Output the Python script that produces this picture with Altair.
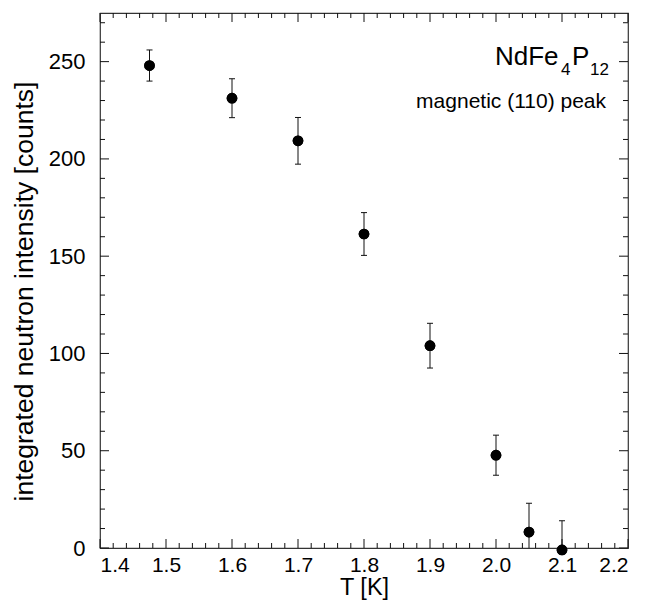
import altair as alt
import pandas as pd

# ---- data ----
T = [1.475, 1.6, 1.7, 1.8, 1.9, 2.0, 2.05, 2.1]
I = [248.0, 231.2, 209.3, 161.4, 104.0, 47.7, 8.2, -1.0]
ERR = [8.0, 10.0, 12.0, 11.0, 11.5, 10.3, 14.8, 15.0]

X_MAJOR = [1.4, 1.5, 1.6, 1.7, 1.8, 1.9, 2.0, 2.1, 2.2]
X_MINOR = [1.42, 1.44, 1.46, 1.48, 1.52, 1.54, 1.56, 1.58,
           1.62, 1.64, 1.66, 1.68, 1.72, 1.74, 1.76, 1.78,
           1.82, 1.84, 1.86, 1.88, 1.92, 1.94, 1.96, 1.98,
           2.02, 2.04, 2.06, 2.08, 2.12, 2.14, 2.16, 2.18]
Y_MAJOR = [0, 50, 100, 150, 200, 250]
Y_MINOR = [10, 20, 30, 40, 60, 70, 80, 90, 110, 120, 130, 140,
           160, 170, 180, 190, 210, 220, 230, 240, 260, 270]

X_TITLE = "T [K]"
Y_TITLE = "integrated neutron intensity [counts]"
COMPOUND = ["NdFe", "4", "P", "12"]
PEAK_LABEL = "magnetic (110) peak"

FONT = "Liberation Sans"
W, H = 528, 535
MAJ, MIN = 9, 5
INK = "#111111"

df = pd.DataFrame({"T": T, "I": I, "err": ERR})
df["lo"] = df["I"] - df["err"]
df["hi"] = df["I"] + df["err"]

xs = alt.Scale(domain=[1.4, 2.2], nice=False, zero=False)
ys = alt.Scale(domain=[0, 275], nice=False, zero=False)

x_axis = alt.Axis(values=X_MAJOR, format=".1f", title=X_TITLE, ticks=False,
                  domain=False, grid=False, labelFont=FONT, labelFontSize=21,
                  labelColor="black", labelPadding=6, titleFont=FONT,
                  titleFontSize=23.5, titleFontWeight="normal", titleColor="black",
                  titleBaseline="alphabetic", titleY=46)
y_axis = alt.Axis(values=Y_MAJOR, format="d", title=Y_TITLE, ticks=False,
                  domain=False, grid=False, labelFont=FONT, labelFontSize=22,
                  labelColor="black", labelPadding=15, titleFont=FONT,
                  titleFontSize=26.5, titleFontWeight="normal", titleColor="black",
                  titleBaseline="alphabetic", titleX=-68, titleY=278)


def X(field):
    return alt.X(field, scale=xs, axis=x_axis)


def Y(field):
    return alt.Y(field, scale=ys, axis=y_axis)


points = alt.Chart(df).mark_circle(size=115, color="black", opacity=1).encode(
    x=X("T:Q"), y=Y("I:Q"),
)

bars = alt.Chart(df).mark_rule(color=INK, strokeWidth=1, clip=True).encode(
    x=X("T:Q"), y=Y("lo:Q"), y2="hi:Q",
)
cap_hi = alt.Chart(df).mark_rule(color=INK, strokeWidth=1, clip=True,
                                 xOffset=-3, x2Offset=3).encode(
    x=X("T:Q"), x2="T:Q", y=Y("hi:Q"),
)
cap_lo = alt.Chart(df).mark_rule(color=INK, strokeWidth=1, clip=True,
                                 xOffset=-3, x2Offset=3).encode(
    x=X("T:Q"), x2="T:Q", y=Y("lo:Q"),
)


def xticks(vals, length):
    d = pd.DataFrame({"v": vals})
    base = alt.Chart(d).mark_rule(color=INK, strokeWidth=1)
    bot = base.encode(x=X("v:Q"), y=alt.value(H), y2=alt.value(H - length))
    top = base.encode(x=X("v:Q"), y=alt.value(0), y2=alt.value(length))
    return [bot, top]


def yticks(vals, length):
    d = pd.DataFrame({"v": vals})
    base = alt.Chart(d).mark_rule(color=INK, strokeWidth=1)
    left = base.encode(y=Y("v:Q"), x=alt.value(0), x2=alt.value(length))
    right = base.encode(y=Y("v:Q"), x=alt.value(W), x2=alt.value(W - length))
    return [left, right]


def label(text, x, y, size, align="left"):
    return alt.Chart(pd.DataFrame({"t": [text]})).mark_text(
        align=align, baseline="alphabetic", font=FONT, fontSize=size,
        color="black").encode(x=alt.value(x), y=alt.value(y), text="t:N")


texts = [
    label(COMPOUND[0], 395, 52, 26),
    label(COMPOUND[1], 461, 62, 17),
    label(COMPOUND[2], 472, 52, 26),
    label(COMPOUND[3], 490, 62, 17),
    label(PEAK_LABEL, 506, 95, 21, align="right"),
]

layers = ([points] + xticks(X_MAJOR, MAJ) + xticks(X_MINOR, MIN)
          + yticks(Y_MAJOR, MAJ) + yticks(Y_MINOR, MIN)
          + [bars, cap_hi, cap_lo] + texts + [points])

chart = alt.layer(*layers).properties(
    width=W, height=H,
    autosize=alt.AutoSizeParams(type="none"),
    padding={"left": 92, "top": 5, "right": 10, "bottom": 52},
).configure_view(stroke="#333333", strokeWidth=1.2)

chart.save("out.html", embed_options={"renderer": "svg", "actions": False})
